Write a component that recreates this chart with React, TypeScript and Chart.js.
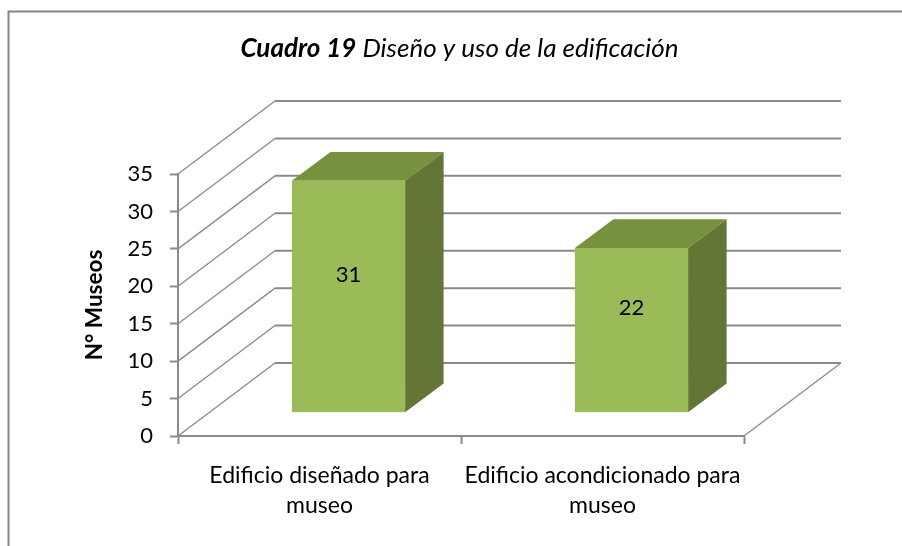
import React, { useEffect, useRef } from "react";
import { Chart, registerables } from "chart.js";

Chart.register(...registerables);

const titleBold = "Cuadro 19";
const titleRest = " Diseño y uso de la edificación";
const yAxisTitle = "N° Museos";
const categories = [
  ["Edificio diseñado para", "museo"],
  ["Edificio acondicionado para", "museo"],
];
const seriesValues = [31, 22];
const yMax = 35;
const yStep = 5;

const FONT = "Lato, Carlito, sans-serif";
const AXIS = "#8a8a8a";
const FRONT = "#9bbb59";
const TOP = "#77913f";
const SIDE = "#647636";
const WALL_DX = 97;
const WALL_DY = 73;
const BAR_DX = 29;
const BAR_DY = 23.3;
const DEPTH_DX = 38.5;
const DEPTH_DY = 28.7;
const LABEL_RISE = 22;

const scene3d = {
  id: "scene3d",
  beforeDraw(chart: any) {
    const { ctx, chartArea: a, scales } = chart;
    ctx.save();
    ctx.fillStyle = "#ffffff";
    ctx.fillRect(0, 0, chart.width, chart.height);
    ctx.strokeStyle = "#868686";
    ctx.lineWidth = 2;
    ctx.beginPath();
    ctx.moveTo(8.5, chart.height + 5);
    ctx.lineTo(8.5, 11.5);
    ctx.lineTo(chart.width + 5, 11.5);
    ctx.stroke();

    ctx.strokeStyle = AXIS;
    scales.y.ticks.forEach((t: any) => {
      const y = scales.y.getPixelForValue(t.value);
      ctx.lineWidth = 1.3;
      ctx.beginPath();
      ctx.moveTo(a.left, y);
      ctx.lineTo(a.left + WALL_DX, y - WALL_DY);
      ctx.stroke();
      ctx.lineWidth = 2;
      ctx.beginPath();
      ctx.moveTo(a.left + WALL_DX, y - WALL_DY);
      ctx.lineTo(a.right + WALL_DX, y - WALL_DY);
      ctx.stroke();
    });
    const y0 = scales.y.getPixelForValue(0);
    ctx.lineWidth = 1.3;
    ctx.beginPath();
    ctx.moveTo(a.right, y0);
    ctx.lineTo(a.right + WALL_DX, y0 - WALL_DY);
    ctx.stroke();

    ctx.fillStyle = "#000000";
    ctx.textBaseline = "alphabetic";
    ctx.textAlign = "left";
    const bold = `italic bold 26px ${FONT}`;
    const reg = `italic 26px ${FONT}`;
    ctx.font = bold;
    const w1 = ctx.measureText(titleBold).width;
    ctx.font = reg;
    const w2 = ctx.measureText(titleRest).width;
    const x0 = 459.5 - (w1 + w2) / 2;
    ctx.font = bold;
    ctx.fillText(titleBold, x0, 57);
    ctx.font = reg;
    ctx.fillText(titleRest, x0 + w1, 57);
    ctx.restore();
  },
  beforeDatasetDraw(chart: any, args: any) {
    const { ctx } = chart;
    const meta = chart.getDatasetMeta(args.index);
    ctx.save();
    ctx.translate(BAR_DX, -BAR_DY);
    meta.data.forEach((b: any) => {
      const L = b.x - b.width / 2;
      const R = b.x + b.width / 2;
      ctx.fillStyle = TOP;
      ctx.beginPath();
      ctx.moveTo(L, b.y);
      ctx.lineTo(L + DEPTH_DX, b.y - DEPTH_DY);
      ctx.lineTo(R + DEPTH_DX, b.y - DEPTH_DY);
      ctx.lineTo(R, b.y);
      ctx.closePath();
      ctx.fill();
      ctx.fillStyle = SIDE;
      ctx.beginPath();
      ctx.moveTo(R, b.y);
      ctx.lineTo(R + DEPTH_DX, b.y - DEPTH_DY);
      ctx.lineTo(R + DEPTH_DX, b.base - DEPTH_DY);
      ctx.lineTo(R, b.base);
      ctx.closePath();
      ctx.fill();
    });
  },
  afterDatasetDraw(chart: any, args: any) {
    const { ctx } = chart;
    const meta = chart.getDatasetMeta(args.index);
    ctx.restore();
    ctx.save();
    ctx.fillStyle = "#000000";
    ctx.font = `22px ${FONT}`;
    ctx.textAlign = "center";
    ctx.textBaseline = "middle";
    meta.data.forEach((b: any, i: number) => {
      const cy = (b.y + b.base) / 2 - BAR_DY - LABEL_RISE;
      ctx.fillText(String(seriesValues[i]), b.x + BAR_DX, cy);
    });
    ctx.restore();
  },
};

export default function App() {
  const ref = useRef<HTMLCanvasElement>(null);
  useEffect(() => {
    const chart = new Chart(ref.current as any, {
      type: "bar",
      data: {
        labels: categories as any,
        datasets: [
          {
            data: seriesValues,
            backgroundColor: FRONT,
            borderWidth: 0,
            categoryPercentage: 1,
            barPercentage: 0.4,
          },
        ],
      },
      plugins: [scene3d as any],
      options: {
        animation: false,
        responsive: false,
        layout: { padding: { left: 0, right: 158, top: 174, bottom: 0 } },
        plugins: { legend: { display: false }, tooltip: { enabled: false } },
        scales: {
          x: {
            afterFit: (s: any) => {
              s.height = 110;
            },
            grid: {
              display: true,
              drawOnChartArea: false,
              tickLength: 8,
              tickColor: AXIS,
              tickWidth: 2,
              offset: true,
            },
            border: { display: true, color: AXIS, width: 2 },
            ticks: {
              color: "#000000",
              font: { family: FONT, size: 23, lineHeight: 30 / 23 },
              padding: 17,
              maxRotation: 0,
              autoSkip: false,
            },
          },
          y: {
            min: 0,
            max: yMax,
            afterFit: (s: any) => {
              s.width = 178;
            },
            title: {
              display: true,
              text: yAxisTitle,
              color: "#000000",
              font: { family: FONT, size: 22.5, weight: "bold" },
              padding: { top: 81, bottom: 0 },
            },
            grid: {
              display: true,
              drawOnChartArea: false,
              tickLength: 8,
              tickColor: AXIS,
              tickWidth: 2,
            },
            border: { display: true, color: AXIS, width: 2 },
            ticks: {
              stepSize: yStep,
              color: "#000000",
              font: { family: FONT, size: 22 },
              padding: 17,
            },
          },
        },
      },
    });
    return () => chart.destroy();
  }, []);
  return (
    <canvas
      ref={ref}
      width={902}
      height={546}
      style={{ position: "absolute", left: 0, top: 0, width: 902, height: 546, display: "block" }}
    />
  );
}
